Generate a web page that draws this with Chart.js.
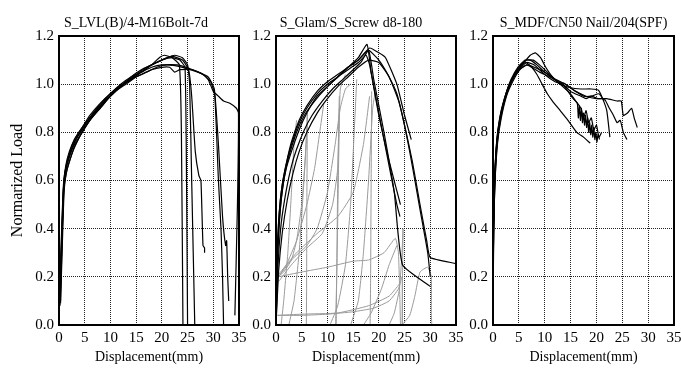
<!DOCTYPE html>
<html>
<head>
<meta charset="utf-8">
<script src="https://cdn.jsdelivr.net/npm/chart.js@4.4.0/dist/chart.umd.min.js"></script>
<style>
  body { margin: 0; background: #fff; width: 681px; height: 368px; position: relative; overflow: hidden; }
  canvas { position: absolute; top: 0; }
</style>
</head>
<body>
<canvas id="p1" width="272" height="368" style="left:0px"></canvas>
<canvas id="p2" width="230" height="368" style="left:236px"></canvas>
<canvas id="p3" width="236" height="368" style="left:462px"></canvas>
<script>
// axis ranges / labels
const xRange = [0, 35];
const yRange = [0, 1.2];
const xStep = 5;
const yStep = 0.2;
const panelTitles = ['S_LVL(B)/4-M16Bolt-7d', 'S_Glam/S_Screw d8-180', 'S_MDF/CN50 Nail/204(SPF)'];
const xTitle = 'Displacement(mm)';
const yTitle = 'Normarized Load';

// S_LVL(B)/4-M16Bolt-7d  [displacement mm, normalized load]
const lvlA = [[0.1,0.09],[0.4,0.32],[0.8,0.56],[1.2,0.64],[2,0.7],[3,0.76],[4.5,0.81],[6,0.86],[8,0.91],[10,0.95],[12,0.99],[14,1.02],[16,1.05],[18,1.08],[19.5,1.11],[20.5,1.12],[22,1.11],[23.4,1.08],[23.8,0.8],[24.1,0]];
const lvlB = [[0.2,0.08],[0.5,0.3],[0.9,0.57],[1.3,0.65],[2,0.71],[3,0.77],[4.5,0.82],[6,0.87],[8,0.92],[10,0.96],[12,0.99],[14,1.03],[16,1.06],[18,1.08],[20,1.1],[22,1.11],[23.5,1.1],[24.5,1.07],[24.8,0.6],[25.0,0]];
const lvlC = [[0.3,0.1],[0.6,0.35],[1,0.58],[1.5,0.66],[2.5,0.73],[3.5,0.78],[5,0.83],[7,0.89],[9,0.94],[11,0.98],[13,1.01],[15,1.04],[17,1.07],[19,1.09],[21,1.11],[22.5,1.12],[24,1.11],[25,1.08],[25.4,1.0],[25.8,0.6],[26.4,0]];
const lvlD = [[0.2,0.12],[0.5,0.33],[0.9,0.55],[1.4,0.63],[2.2,0.69],[3,0.74],[4.5,0.8],[6,0.85],[8,0.9],[10,0.95],[12,0.99],[14,1.02],[16,1.05],[18,1.08],[20,1.1],[22,1.115],[24,1.1],[25.2,1.06],[25.8,0.95],[26.5,0.72],[27.2,0.62],[27.6,0.6],[28,0.33],[28.3,0.32],[28.3,0.3]];
const lvlE = [[0.1,0.1],[0.4,0.3],[0.8,0.54],[1.2,0.63],[2,0.7],[3,0.75],[4.5,0.8],[6,0.85],[8,0.9],[10,0.95],[12,0.99],[14,1.02],[16,1.04],[18,1.06],[20,1.07],[21.5,1.07],[22.5,1.05],[23.5,1.06],[26,1.06],[28,1.04],[29.5,1.01],[30.3,0.95],[31,0.6],[31.5,0.4],[31.8,0.2],[32,0]];
const lvlF = [[0.3,0.09],[0.6,0.3],[1,0.56],[1.5,0.64],[2.5,0.71],[3.5,0.76],[5,0.82],[7,0.88],[9,0.93],[11,0.97],[13,1.0],[15,1.03],[17,1.05],[19,1.07],[21,1.08],[24,1.07],[27,1.05],[29,1.03],[30.2,0.98],[31,0.75],[31.8,0.45],[32.4,0.33],[32.6,0.35],[32.8,0.2],[33,0.1]];
const lvlG = [[0.2,0.1],[0.5,0.32],[0.9,0.58],[1.3,0.66],[2,0.72],[3,0.77],[4.5,0.82],[6,0.86],[8,0.91],[10,0.96],[12,1.0],[14,1.03],[16,1.05],[18,1.07],[20,1.08],[23,1.08],[26,1.06],[28,1.04],[29,1.02],[30,0.97],[31,0.95],[32,0.93],[33.3,0.92],[34.5,0.9],[34.9,0.88],[34.7,0.5],[34.2,0.04]];

// S_Glam/S_Screw d8-180, monotonic tests (black)
const glamA = [[0,0],[0.2,0.25],[0.5,0.42],[1,0.55],[1.8,0.65],[3,0.75],[4.5,0.84],[6,0.9],[8,0.96],[10,1.0],[12,1.03],[14,1.07],[16,1.11],[17.7,1.165],[18.5,1.05],[20,0.88],[22,0.66],[23.5,0.5],[24.1,0.45]];
const glamB = [[0,0],[0.3,0.3],[0.7,0.45],[1.3,0.57],[2,0.65],[3,0.72],[4.5,0.81],[6,0.88],[8,0.95],[10,0.99],[12,1.03],[14,1.07],[16,1.1],[18,1.14],[19,1.02],[21,0.8],[23,0.55],[24.6,0.25],[30,0.16]];
const glamC = [[0,0],[0.2,0.28],[0.6,0.46],[1.2,0.58],[2,0.67],[3,0.76],[4.5,0.85],[6,0.91],[8,0.97],[10,1.01],[12,1.04],[14,1.07],[16,1.1],[18.2,1.15],[20,1.13],[21.3,1.11],[23.5,1.0],[25,0.87],[26.3,0.77]];
const glamD = [[0,0],[0.4,0.25],[1,0.42],[2,0.56],[3,0.66],[4,0.73],[5.5,0.81],[7,0.87],[9,0.93],[11,0.98],[13,1.02],[15,1.06],[16.5,1.09],[18,1.14],[20,1.1],[22,1.03],[23.5,0.96],[25,0.83],[26.5,0.68],[28,0.5],[29.3,0.35],[30,0.28],[35,0.255]];
const glamE = [[0,0],[0.5,0.22],[1.2,0.38],[2.2,0.52],[3.3,0.63],[4.5,0.72],[6,0.8],[8,0.88],[10,0.94],[12,0.99],[14,1.03],[16,1.07],[18,1.1],[20,1.09],[22,1.03],[24,0.92],[26,0.72],[28,0.48],[29.5,0.3],[30,0.2]];
const glamF = [[0,0],[0.3,0.27],[0.8,0.47],[1.5,0.6],[2.5,0.7],[4,0.8],[5.5,0.87],[7.5,0.93],[10,0.99],[12,1.03],[14,1.06],[16,1.09],[17.5,1.12],[18.2,1.08],[20,0.87],[22,0.68],[24.2,0.5]];

// S_Glam/S_Screw d8-180, cyclic loops (grey)
const cyc1 = [[0.3,0.2],[1.5,0.22],[3,0.27],[4,0.35],[5,0.5],[5.7,0.7],[6.1,0.88]];
const cyc2 = [[6.1,0.88],[6.0,0.5],[5.95,0.15],[5.9,0]];
const cyc3 = [[2.5,0],[3.5,0.1],[4.5,0.3],[5.3,0.55],[6,0.8]];
const cyc4 = [[0.5,0.2],[3,0.27],[6,0.33],[8,0.4],[10,0.55],[11.5,0.75],[12.5,0.9],[13.5,0.98],[14.5,1.0]];
const cyc5 = [[0.5,0.18],[3,0.25],[6,0.32],[9,0.38],[11,0.5],[12,0.65],[12.3,0.9]];
const cyc6 = [[12.3,0.95],[12,0.6],[11.8,0.2],[11.7,0]];
const cyc7 = [[10.5,0],[12,0.08],[13.5,0.25],[14.5,0.5],[15.2,0.8],[15.7,1.02]];
const cyc8 = [[0.5,0.21],[4,0.3],[8,0.38],[12,0.45],[15,0.55],[17,0.75],[18.2,0.95]];
const cyc9 = [[18.6,0.97],[18.5,0.6],[18.4,0.2],[18.3,0]];
const cyc10 = [[14.5,0],[16,0.1],[17,0.3],[18,0.6],[18.8,0.9],[19.3,0.97]];
const cyc11 = [[0.4,0.2],[5,0.22],[10,0.24],[15,0.265],[18,0.27],[21,0.3],[23.2,0.36],[23.8,0.3],[24.1,0.1],[24.2,0]];
const cyc12 = [[0.3,0.04],[5,0.04],[10,0.045],[15,0.055],[19,0.07],[22,0.1],[23.8,0.15],[24.5,0.2],[24.6,0.05],[24.6,0]];
const cyc13 = [[22,0],[23,0.05],[24,0.15],[24.5,0.3],[24.7,0.4]];
const cyc14 = [[24.7,0.4],[24.6,0.2],[24.5,0]];
const cyc15 = [[24.5,0],[26,0.04],[27,0.12],[28,0.22],[29.5,0.24],[30.2,0.2],[30.2,0.05],[30.3,0]];
const cyc16 = [[0.3,0.04],[5,0.045],[12,0.05],[18,0.08],[22,0.12],[24,0.17]];
const cyc17 = [[1,0],[1.5,0.1],[2.3,0.3],[3,0.55],[3.5,0.75],[4,0.85]];
const cyc18 = [[0.2,0.19],[2,0.25],[4,0.35],[6,0.5],[7.5,0.65],[8.5,0.8],[9.3,0.92]];
const cyc19 = [[17,0],[18.5,0.05],[20.5,0.15],[22,0.25],[23.5,0.33]];
const cyc20 = [[11.6,0],[11.9,0.3],[12.2,0.7],[12.5,0.98],[13.5,1.04]];

// S_MDF/CN50 Nail/204(SPF)
const mdfA = [[0,0],[0.1,0.4],[0.3,0.6],[0.7,0.76],[1.3,0.86],[2.2,0.94],[3.2,1.0],[4.5,1.05],[6,1.09],[7.2,1.12],[8.2,1.13],[9.2,1.11],[10.2,1.07],[11.5,1.03],[13,1.0],[15,0.985],[17,0.98],[19,0.98],[20.4,0.975],[21.2,0.94],[22,0.89],[22.6,0.78]];
const mdfB = [[0,0],[0.1,0.38],[0.35,0.58],[0.8,0.75],[1.5,0.86],[2.5,0.95],[3.7,1.02],[5,1.07],[6.3,1.09],[7.5,1.07],[8.5,1.04],[9.5,1.0],[10.5,0.96],[11.5,0.93],[13,0.89],[14.5,0.85],[16.2,0.8],[17.5,0.78],[18.8,0.755]];
const mdfC = [[0,0],[0.15,0.42],[0.4,0.6],[0.9,0.76],[1.6,0.86],[2.6,0.95],[3.8,1.01],[5.2,1.06],[6.5,1.08],[7.5,1.07],[9,1.05],[11,1.03],[12.5,1.01],[13.5,1.0],[14.5,0.97],[15.5,0.94],[16.3,0.92],[16.5,0.86],[16.7,0.91],[16.9,0.85],[17.1,0.9],[17.3,0.84],[17.5,0.88],[17.7,0.83],[17.9,0.87],[18.1,0.82],[18.3,0.86],[18.5,0.8],[18.7,0.84],[18.9,0.79],[19.1,0.83],[19.3,0.78],[19.5,0.82],[19.7,0.77],[19.9,0.8],[20.1,0.76],[20.3,0.79],[20.6,0.77]];
const mdfD = [[0,0],[0.1,0.4],[0.3,0.6],[0.8,0.78],[1.5,0.88],[2.5,0.96],[3.5,1.02],[4.8,1.07],[6.2,1.1],[7.2,1.1],[8.5,1.08],[10,1.05],[12,1.02],[14,1.0],[16,0.97],[18,0.95],[20,0.94],[22,0.94],[24,0.93],[24.8,0.93],[25.2,0.87],[26,0.88],[26.8,0.9],[27.3,0.86],[27.9,0.82]];
const mdfE = [[0,0],[0.12,0.41],[0.35,0.6],[0.8,0.77],[1.5,0.87],[2.5,0.95],[3.6,1.01],[5,1.06],[6.5,1.09],[8,1.08],[10,1.04],[12,1.01],[13.5,1.0],[15,0.97],[17,0.95],[18,0.94],[19,0.95],[20.3,0.94],[21.5,0.94],[22.5,0.9],[23.3,0.87],[24,0.84],[24.6,0.85],[25.2,0.8],[25.9,0.77]];
const mdfF = [[0,0],[0.1,0.38],[0.3,0.58],[0.8,0.76],[1.5,0.87],[2.5,0.96],[3.6,1.02],[5,1.07],[6.5,1.1],[7.8,1.1],[9,1.08],[10.5,1.05],[12,1.02],[13.5,0.99],[15,0.96],[16,0.93],[17,0.9],[17.5,0.86],[18,0.89],[18.5,0.84],[19,0.86],[19.5,0.81],[20,0.83],[20.5,0.78],[21,0.8]];
const mdfG = [[0,0],[0.1,0.4],[0.3,0.6],[0.8,0.77],[1.6,0.88],[2.6,0.96],[3.7,1.02],[5,1.06],[6.6,1.08],[8,1.07],[10,1.05],[12,1.02],[14,1.0],[16,0.97],[17.5,0.95],[19,0.95],[20.5,0.96],[21.5,0.93]];

const SERIF = "'Liberation Serif', 'Times New Roman', serif";

const framePlugin = {
  id: 'frame',
  afterDraw(chart) {
    const { ctx, chartArea: a } = chart;
    ctx.save();
    ctx.strokeStyle = '#000';
    ctx.lineWidth = 2;
    ctx.strokeRect(a.left, a.top, a.right - a.left, a.bottom - a.top);
    ctx.restore();
  }
};

function curve(points, color, width) {
  return {
    data: points.map(([x, y]) => ({ x, y })),
    showLine: true,
    borderColor: color,
    borderWidth: width,
    pointRadius: 0,
    tension: 0.15,
    fill: false
  };
}

// padLeft moves the title box so the title sits where it does in the figure
function makePanel(id, title, black, grey, padLeft, axisWidth, padRight, withYTitle, titleFull) {
  const datasets = [
    ...black.map(c => curve(c, '#000', 1.2)),
    ...grey.map(c => curve(c, '#9a9a9a', 1))
  ];
  const tickFont = { family: SERIF, size: 15 };

  return new Chart(document.getElementById(id), {
    type: 'scatter',
    data: { datasets },
    options: {
      responsive: false,
      animation: false,
      events: [],
      layout: { padding: { top: 0, right: padRight, bottom: 0, left: padLeft } },
      plugins: {
        legend: { display: false },
        tooltip: { enabled: false },
        title: {
          display: true,
          text: title,
          fullSize: titleFull,
          color: '#000',
          font: { family: SERIF, size: 14, weight: 'normal' },
          padding: { top: 15, bottom: 4.2 }
        }
      },
      scales: {
        x: {
          type: 'linear',
          min: xRange[0],
          max: xRange[1],
          ticks: { stepSize: xStep, padding: 4, color: '#000', font: tickFont, maxRotation: 0, autoSkip: false },
          grid: { color: '#222', drawTicks: false, lineWidth: 1 },
          border: { display: false, dash: [1, 1] },
          title: { display: true, text: xTitle, color: '#000', font: { family: SERIF, size: 14 }, padding: { top: 0, bottom: 2 } },
          afterFit(s) { s.height = 43; s.paddingLeft = 0; s.paddingRight = 0; }
        },
        y: {
          min: yRange[0],
          max: yRange[1],
          ticks: { stepSize: yStep, padding: 5, color: '#000', font: tickFont, callback: v => v.toFixed(1) },
          grid: { color: '#222', drawTicks: false, lineWidth: 1 },
          border: { display: false, dash: [1, 1] },
          title: { display: withYTitle, text: yTitle, color: '#000', font: { family: SERIF, size: 16 }, padding: { top: -24.6, bottom: 0 } },
          afterFit(s) { s.width = axisWidth; s.paddingTop = 0; s.paddingBottom = 0; }
        }
      }
    },
    plugins: [framePlugin]
  });
}

makePanel('p1', panelTitles[0], [lvlA, lvlB, lvlC, lvlD, lvlE, lvlF, lvlG], [], 33, 26, 33, true, true);
makePanel('p2', panelTitles[1], [glamA, glamB, glamC, glamD, glamE, glamF],
  [cyc1, cyc2, cyc3, cyc4, cyc5, cyc6, cyc7, cyc8, cyc9, cyc10, cyc11, cyc12, cyc13, cyc14, cyc15, cyc16, cyc17, cyc18, cyc19, cyc20], 10, 30, 10, false, true);
makePanel('p3', panelTitles[2], [mdfA, mdfB, mdfC, mdfD, mdfE, mdfF, mdfG], [], 0, 31, 24, false, false);
</script>
</body>
</html>
